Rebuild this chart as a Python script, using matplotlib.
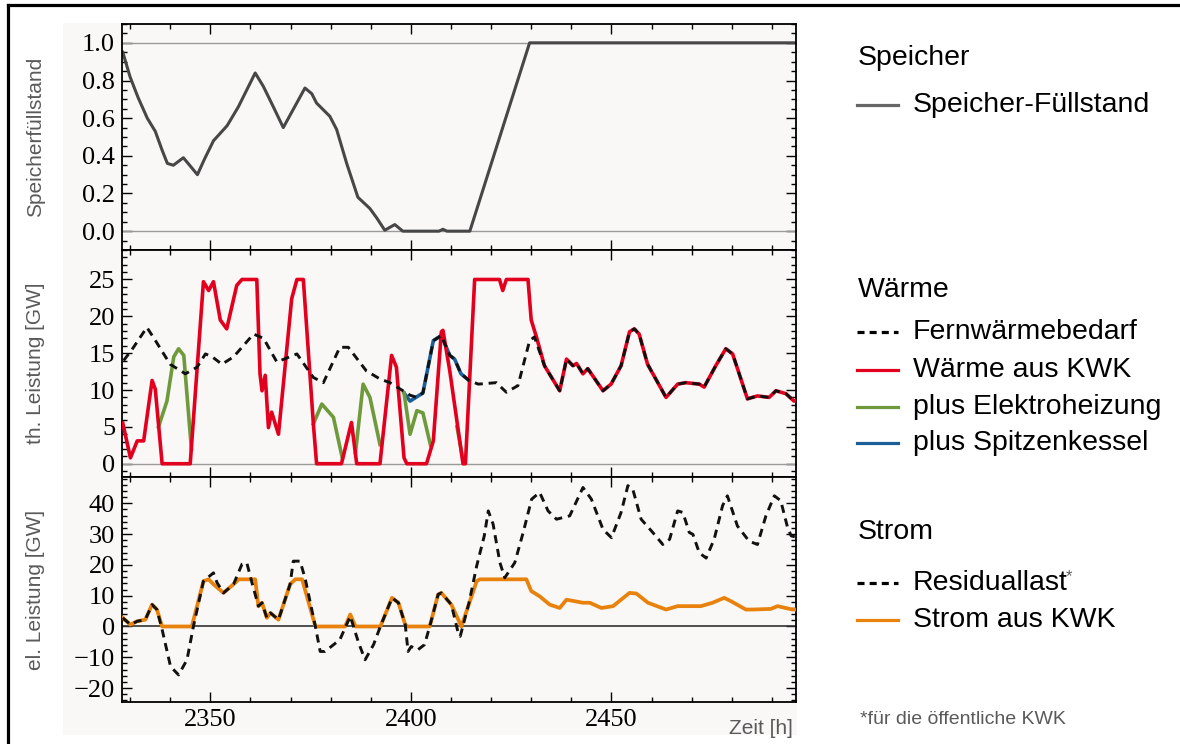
import matplotlib
matplotlib.use("Agg")
import matplotlib.pyplot as plt
from matplotlib.ticker import MultipleLocator, FixedLocator
from matplotlib.lines import Line2D
from matplotlib.patches import Rectangle
import numpy as np

# Speicher-Füllstand
sp_x = [2328.2, 2330, 2332, 2334.3, 2336.3, 2338, 2339.3, 2340.8, 2343.3, 2346.8, 2348.5,
        2350.8, 2354.2, 2357, 2361.2, 2363.2, 2365.5, 2368.2, 2373.6, 2375.3, 2376.5, 2379.8,
        2381.5, 2384, 2386.8, 2389.8, 2391.5, 2393.5, 2396, 2398, 2407, 2408, 2409, 2414.7,
        2429.6, 2496]
sp_y = [0.95, 0.82, 0.71, 0.60, 0.53, 0.43, 0.36, 0.35, 0.39, 0.30, 0.38,
        0.48, 0.56, 0.66, 0.84, 0.77, 0.67, 0.55, 0.76, 0.73, 0.68, 0.61,
        0.54, 0.36, 0.18, 0.12, 0.07, 0.005, 0.035, 0.0, 0.0, 0.01, 0.0, 0.0,
        1.0, 1.0]

# Fernwärmebedarf
fw_x = [2328.4, 2330.5, 2334.2, 2336, 2340, 2343.8, 2346.7, 2348.8, 2350.5, 2352.9, 2355.8,
        2360.8, 2363.3, 2366.6, 2371.6, 2375.7, 2378.2, 2382.3, 2384.4, 2388.9, 2392.3,
        2394.8, 2399.8, 2401.5, 2403.0, 2405.6, 2407.6, 2409.7, 2410.9, 2412.5, 2414.5,
        2416.8, 2421.3, 2423.8, 2426.7, 2429.6, 2430.8, 2433.3, 2437.1, 2438.8, 2440.4,
        2441.3, 2442.9, 2444.1, 2447.9, 2449.9, 2452.4, 2454.5, 2455.7, 2456.9, 2459.0,
        2463.6, 2466.5, 2468.5, 2471.9, 2473.1, 2476.0, 2478.5, 2480.2, 2483.9, 2486.4,
        2489.3, 2491.0, 2493.5, 2495.5, 2496]
fw_y = [14.0, 15.5, 18.5, 17.0, 13.5, 12.2, 13.1, 14.9, 14.5, 13.5, 14.5,
        17.6, 17.0, 13.8, 14.9, 11.7, 11.0, 15.8, 15.8, 12.6, 11.5,
        11.0, 9.3, 9.0, 9.6, 16.7, 17.4, 14.7, 14.2, 12.2, 11.3,
        10.8, 11.0, 9.7, 10.6, 16.7, 17.2, 13.3, 9.9, 14.2, 13.3,
        13.6, 12.2, 12.9, 9.9, 10.8, 13.3, 17.9, 18.3, 17.6, 13.5,
        9.0, 10.8, 11.0, 10.8, 10.4, 13.3, 15.6, 14.9, 8.8, 9.2,
        9.0, 9.9, 9.5, 8.5, 8.6]

# Wärme aus KWK
kwk_x = [2328.2, 2330.1, 2331.8, 2333.4, 2335.5, 2336.3, 2338, 2345, 2348.3, 2349.6, 2350.8,
         2352.5, 2354.1, 2356.6, 2357.9, 2361.6, 2362.4, 2362.9, 2363.7, 2364.5, 2365.3,
         2367.0, 2370.3, 2371.6, 2373.2, 2375.7, 2376.5, 2382.7, 2385.2, 2386.5, 2392.3,
         2395.2, 2396.4, 2398.3, 2399.0, 2403.9, 2405.6, 2407.6, 2408.0, 2409.7, 2413.0,
         2413.6, 2415.9, 2422.1, 2422.9, 2423.8, 2429.2, 2430.0, 2431.3, 2433.3, 2437.1,
         2438.8, 2440.4, 2441.3, 2442.9, 2444.1, 2447.9, 2449.9, 2452.4, 2454.5, 2455.7,
         2456.9, 2459.0, 2463.6, 2466.5, 2468.5, 2471.9, 2473.1, 2476.0, 2478.5, 2480.2,
         2483.9, 2486.4, 2489.3, 2491.0, 2493.5, 2495.5, 2496]
kwk_y = [5.5, 0.8, 3.1, 3.1, 11.3, 10.1, 0, 0, 24.7, 23.5, 24.7,
         19.5, 18.3, 24.2, 25, 25, 12.2, 9.9, 12.0, 4.9, 7.0,
         4.0, 22.4, 25, 25, 5.4, 0, 0, 5.6, 0, 0,
         14.7, 13.1, 0.8, 0, 0, 3.1, 17.9, 18.1, 12.6, 0,
         0, 25, 25, 23.5, 25, 25, 19.5, 17.2, 13.3, 9.9,
         14.2, 13.3, 13.6, 12.2, 12.9, 9.9, 10.8, 13.3, 17.9, 18.3,
         17.6, 13.5, 9.0, 10.8, 11.0, 10.8, 10.4, 13.3, 15.6, 14.9,
         8.8, 9.2, 9.0, 9.9, 9.5, 8.5, 8.6]

# plus Elektroheizung (visible parts, gaps as nan)
eh_x = [2337.1, 2339.2, 2340.9, 2342.1, 2343.4, 2345.3, np.nan,
        2375.7, 2377.8, 2380.7, 2382.9, np.nan,
        2386.2, 2388.1, 2389.8, 2392.3, np.nan,
        2398.3, 2399.8, 2401.5, 2403.0, 2404.9, np.nan,
        2411.5, 2412.5, 2413.0]
eh_y = [5.0, 8.5, 14.5, 15.6, 14.7, 2.0, np.nan,
        5.4, 8.1, 6.3, 0.8, np.nan,
        1.5, 10.8, 9.0, 2.6, np.nan,
        9.6, 4.0, 7.2, 6.9, 2.5, np.nan,
        5.0, 2.0, 0.5]

# plus Spitzenkessel
sk_x = [2398.3, 2399.8, 2403.0, 2405.6, 2407.6, 2409.7, 2410.9, 2412.5, 2414.5]
sk_y = [9.6, 8.5, 9.6, 16.7, 17.4, 14.7, 14.2, 12.2, 11.3]

# Strom aus KWK
st_x = [2328.2, 2330.1, 2331.8, 2333.8, 2335.5, 2336.7, 2338.0, 2345.4, 2348.3, 2349.6,
        2350.8, 2353.3, 2355.8, 2357.1, 2361.2, 2362.0, 2362.9, 2364.1, 2365.0, 2367.0,
        2369.9, 2371.2, 2372.9, 2376.2, 2383.6, 2384.9, 2386.2, 2392.4, 2395.3, 2396.9,
        2398.6, 2399.2, 2404.7, 2406.8, 2407.6, 2410.1, 2412.6, 2416.4, 2417.2, 2428.8,
        2430.0, 2432.1, 2434.6, 2437.1, 2438.8, 2442.9, 2444.6, 2447.5, 2450.4, 2454.5,
        2456.2, 2459.1, 2463.6, 2466.5, 2472.3, 2475.2, 2478.1, 2479.8, 2483.5, 2485.1,
        2489.7, 2491.4, 2495.1, 2496]
st_y = [2.8, 0.6, 1.7, 2.2, 7.1, 5.5, 0, 0, 14.7, 15.3,
        13.7, 10.9, 13.7, 15.3, 15.3, 6.6, 7.7, 2.8, 4.4, 2.2,
        13.7, 15.3, 15.3, 0, 0, 3.9, 0, 0, 9.3, 7.7,
        0.6, 0, 0, 10.4, 10.9, 7.1, 0, 14.7, 15.3, 15.3,
        11.5, 9.8, 7.1, 6.0, 8.7, 7.7, 7.7, 6.0, 6.6, 10.9,
        10.7, 7.7, 5.5, 6.6, 6.6, 7.7, 9.3, 8.2, 5.5, 5.5,
        5.7, 6.6, 5.5, 5.5]

# Residuallast
rl_x = [2328.2, 2330.1, 2331.8, 2333.8, 2335.5, 2336.7, 2338.0, 2340.1, 2342.1, 2344.2,
        2345.8, 2348.3, 2350.8, 2351.7, 2353.3, 2355.8, 2357.9, 2359.1, 2360.4, 2362.0,
        2362.9, 2364.1, 2365.0, 2367.0, 2369.9, 2370.7, 2372.4, 2373.7, 2376.2, 2377.4,
        2378.6, 2382.3, 2384.9, 2387.0, 2388.6, 2390.7, 2392.4, 2395.3, 2396.9, 2398.6,
        2399.3, 2400.1, 2401.7, 2403.4, 2404.7, 2406.8, 2407.6, 2410.1, 2411.8, 2412.3,
        2414.5, 2416.4, 2418.3, 2419.3, 2420.5, 2422.2, 2423.4, 2425.9, 2428.0, 2430.1,
        2432.1, 2434.2, 2436.3, 2439.6, 2442.9, 2445.0, 2447.9, 2450.0, 2452.4, 2454.1,
        2455.3, 2457.4, 2460.3, 2462.8, 2464.5, 2466.5, 2467.8, 2469.4, 2470.3, 2471.9,
        2473.6, 2475.6, 2477.7, 2478.9, 2481.4, 2484.3, 2486.4, 2488.5, 2490.6, 2492.2,
        2493.9, 2494.8, 2496]
rl_y = [2.8, 0.6, 1.7, 2.2, 7.1, 5.5, -1.0, -13.0, -15.7, -10.8,
        0, 14.7, 17.4, 14.2, 10.9, 13.7, 20.2, 20.7, 14.2, 6.6,
        7.7, 2.8, 4.4, 2.2, 13.7, 21.2, 21.2, 15.3, 0, -8.1,
        -8.1, -4.3, 3.3, -5.4, -10.8, -5.9, 0, 9.3, 7.7, 0.6,
        -8.1, -6.5, -7.6, -5.9, 0, 10.4, 10.9, 7.1, -2.1, -3.2,
        7.7, 19.6, 29.4, 37.5, 33.2, 20.7, 15.8, 20.7, 30.5, 41.3,
        43.5, 37.5, 34.8, 35.9, 45.1, 41.3, 31.5, 28.8, 37.0, 45.7,
        44.6, 34.8, 30.5, 26.6, 28.3, 37.5, 37.0, 30.5, 29.9, 23.9,
        22.2, 28.3, 39.2, 42.4, 32.6, 27.7, 26.6, 35.9, 42.4, 40.8,
        32.1, 29.4, 29.0]

W, H = 1180, 744
def fx(px):
    return px / W
def fy(py):
    return 1 - py / H

bg = '#f9f8f6'
red = '#e3001f'
green = '#6f9a3c'
blue = '#1c5e98'
orange = '#e8820c'
gray_line = '#474747'
label_gray = '#5a5a5a'
dash = (0, (2.8, 2.0))

plt.rcParams['font.family'] = ['Liberation Sans', 'DejaVu Sans']

fig = plt.figure(figsize=(W / 100, H / 100), dpi=100)
fig.patch.set_facecolor('white')
fig.add_artist(Rectangle((fx(63), fy(735)), fx(797) - fx(63), fy(23) - fy(735),
                         transform=fig.transFigure, facecolor=bg, edgecolor='none', zorder=0))
fig.add_artist(Line2D([fx(8), 1.0], [fy(5), fy(5)], color='black', lw=2.3))
fig.add_artist(Line2D([fx(8), fx(8)], [fy(5), 0.0], color='black', lw=2.3))

left, width = fx(122), fx(796) - fx(122)
ax1 = fig.add_axes([left, fy(250), width, fy(24) - fy(250)])
ax2 = fig.add_axes([left, fy(477), width, fy(250) - fy(477)])
ax3 = fig.add_axes([left, fy(702), width, fy(477) - fy(702)])

tick_font = {'family': 'Liberation Serif', 'size': 19}
for ax in (ax1, ax2, ax3):
    ax.set_facecolor(bg)
    ax.set_xlim(2328, 2496)
    ax.xaxis.set_major_locator(FixedLocator([2350, 2400, 2450]))
    ax.xaxis.set_minor_locator(MultipleLocator(10))
    ax.tick_params(which='both', direction='in', top=True, right=True, color='black', width=1)
    ax.tick_params(which='major', length=7, pad=5)
    ax.tick_params(which='minor', length=3.5)
    for s in ax.spines.values():
        s.set_linewidth(1.3)

# top panel
ax1.axhline(0, color='#9a9a9a', lw=1)
ax1.axhline(1, color='#9a9a9a', lw=1)
ax1.plot(sp_x, sp_y, color=gray_line, lw=2.2)
ax1.set_ylim(-0.1, 1.1)
ax1.set_yticks([0, 0.2, 0.4, 0.6, 0.8, 1.0])
ax1.set_yticklabels(['0.0', '0.2', '0.4', '0.6', '0.8', '1.0'], fontdict=tick_font)
ax1.yaxis.set_minor_locator(MultipleLocator(0.05))
ax1.set_xticklabels([])
ax1.set_ylabel('Speicherfüllstand', color=label_gray, fontsize=15)

# middle panel
ax2.axhline(0, color='#9a9a9a', lw=1)
ax2.plot(sk_x, sk_y, color=blue, lw=2.6, zorder=2)
ax2.plot(eh_x, eh_y, color=green, lw=2.6, zorder=3)
ax2.plot(kwk_x, kwk_y, color=red, lw=2.6, zorder=4)
ax2.plot(fw_x, fw_y, color='#111111', lw=2.1, linestyle=dash, zorder=5)
ax2.set_ylim(-1.8, 29)
ax2.set_yticks([0, 5, 10, 15, 20, 25])
ax2.set_yticklabels(['0', '5', '10', '15', '20', '25'], fontdict=tick_font)
ax2.yaxis.set_minor_locator(MultipleLocator(1))
ax2.set_xticklabels([])
ax2.set_ylabel('th. Leistung [GW]', color=label_gray, fontsize=15)

# bottom panel
ax3.axhline(0, color='#333333', lw=1.2)
ax3.plot(st_x, st_y, color=orange, lw=2.7, zorder=3)
ax3.plot(rl_x, rl_y, color='#111111', lw=2.1, linestyle=dash, zorder=4)
ax3.set_ylim(-24.5, 48.5)
ax3.set_yticks([-20, -10, 0, 10, 20, 30, 40])
ax3.set_yticklabels(['\u221220', '\u221210', '0', '10', '20', '30', '40'], fontdict=tick_font)
ax3.yaxis.set_minor_locator(MultipleLocator(2))
ax3.set_xticklabels(['2350', '2400', '2450'], fontdict=tick_font)
ax3.set_ylabel('el. Leistung [GW]', color=label_gray, fontsize=15)

for ax in (ax1, ax2, ax3):
    ax.yaxis.set_label_coords((45 - 122) / (796 - 122), 0.5)

fig.text(fx(793), fy(728), 'Zeit [h]', ha='right', va='center', color=label_gray, fontsize=15)

# legend
lfs = 20.5
def entry(py, label, color, ls='-'):
    fig.add_artist(Line2D([fx(857), fx(898)], [fy(py), fy(py)], color=color, lw=2.3,
                          linestyle=ls))
    fig.text(fx(913), fy(py), label, ha='left', va='center', fontsize=lfs)

fig.text(fx(858), fy(58), 'Speicher', ha='left', va='center', fontsize=lfs)
entry(105, 'Speicher-Füllstand', '#666666')
fig.text(fx(858), fy(290), 'Wärme', ha='left', va='center', fontsize=lfs)
entry(332, 'Fernwärmebedarf', 'black', (0, (2.2, 1.6)))
entry(370, 'Wärme aus KWK', red)
entry(407, 'plus Elektroheizung', green)
entry(443, 'plus Spitzenkessel', blue)
fig.text(fx(858), fy(532), 'Strom', ha='left', va='center', fontsize=lfs)
entry(583, 'Residuallast', 'black', (0, (2.2, 1.6)))
fig.text(fx(1066), fy(577), '*', ha='left', va='center', fontsize=12, color=label_gray)
entry(620, 'Strom aus KWK', orange)
fig.text(fx(860), fy(719), '*für die öffentliche KWK', ha='left', va='center',
         fontsize=14, color=label_gray)

fig.savefig('out.png', dpi=100, facecolor='white')
